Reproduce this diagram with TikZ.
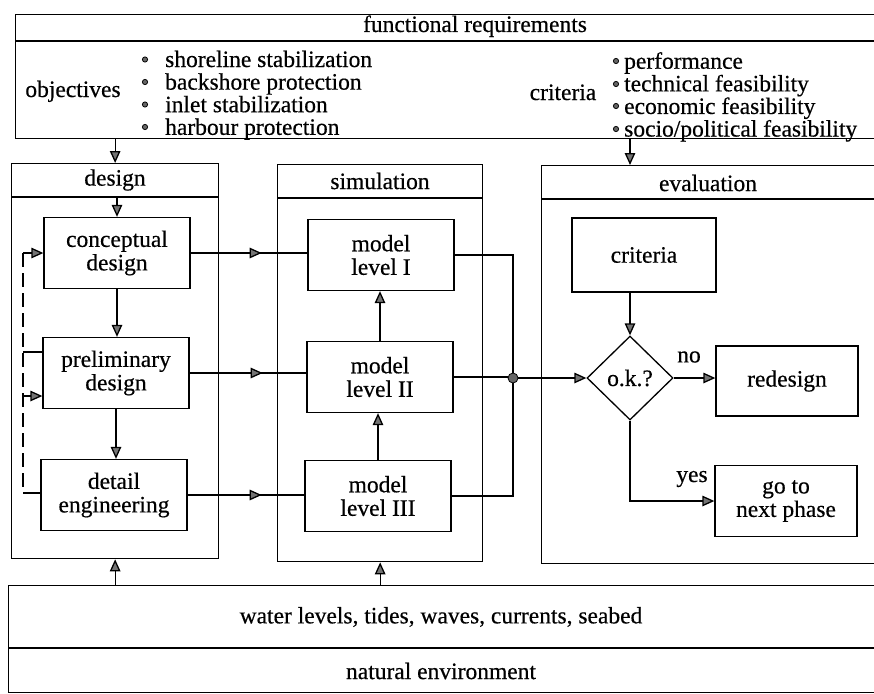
\documentclass[tikz,border=0pt]{standalone}
\usepackage{fontspec}
\setmainfont{Liberation Serif}[FakeBold=0.5]
\usetikzlibrary{arrows.meta,shapes.geometric,decorations.markings}

\tikzset{
  txt/.style={font=\fontsize{23.5}{23.5}\selectfont, inner sep=0pt},
  frame/.style={draw, line width=1.3pt, anchor=north west, inner sep=0pt},
  block/.style={draw, line width=1.3pt, txt, align=center, minimum width=146, minimum height=71},
  wire/.style={line width=1.3pt},
  flowtip/.tip={Triangle[length=12pt,width=10.5pt,fill=black!55]},
  flow/.style={wire, -flowtip},
  midflow/.style={wire, postaction=decorate,
    decoration={markings, mark=at position #1 with {\arrow{flowtip}}}},
  loopline/.style={wire, dash pattern=on 14pt off 6pt},
  listtxt/.style={inner sep=0pt, align=left, anchor=north west, font=\fontsize{23.5}{22.6}\selectfont},
  dotmark/.style={fill=black!60, draw=black, line width=0.8pt},
}

\begin{document}
\begin{tikzpicture}[x=1pt,y=-1pt]
\useasboundingbox (0,0) rectangle (874,693);

% ---------- functional requirements ----------
\node[frame, minimum width=863, minimum height=124] (req) at (15,14) {};
\coordinate (reqdiv) at (15,41);
\draw[wire] (reqdiv) -- (reqdiv -| req.east);
\node[txt, anchor=base] (reqtitle) at (475,32) {functional requirements};

\node[txt, anchor=base] (obj) at (73,97) {objectives};
\node[listtxt] (olist) at (165,50.5)
  {shoreline stabilization\\backshore protection\\inlet stabilization\\harbour protection};
\foreach \y in {59.5,82,104.5,127}
  \filldraw[dotmark] (145,\y) circle (2.6);

\node[txt, anchor=base] (crittitle) at (563,100) {criteria};
\node[listtxt] (clist) at (624,52)
  {performance\\technical feasibility\\economic feasibility\\socio/political feasibility};
\foreach \y in {61,84,106,129}
  \filldraw[dotmark] (616,\y) circle (2.6);

% ---------- containers ----------
\node[frame, minimum width=207, minimum height=395] (design) at (11,163) {};
\coordinate (ddiv) at (11,197);
\draw[wire] (ddiv) -- (ddiv -| design.east);
\node[txt] (dtitle) at (115,180) {design};

\node[frame, minimum width=205, minimum height=397] (sim) at (277,164) {};
\coordinate (sdiv) at (277,198);
\draw[wire] (sdiv) -- (sdiv -| sim.east);
\node[txt] (stitle) at (380,181) {simulation};

\node[frame, minimum width=337, minimum height=398] (eval) at (541,165) {};
\coordinate (ediv) at (541,199);
\draw[wire] (ediv) -- (ediv -| eval.east);
\node[txt] (etitle) at (708,183) {evaluation};

% ---------- natural environment ----------
\node[frame, minimum width=870, minimum height=107] (env) at (8,585) {};
\coordinate (envdiv) at (8,648);
\draw[wire] (envdiv) -- (envdiv -| env.east);
\node[txt] (envdata) at (441,617) {water levels, tides, waves, currents, seabed};
\node[txt] (envtitle) at (441,671) {natural environment};

% ---------- design steps ----------
\node[block] (concept) at (117,253) {conceptual\\design};
\node[block] (prelim) at (116,373) {preliminary\\design};
\node[block] (detail) at (114,495) {detail\\engineering};

% ---------- simulation models ----------
\node[block] (m1) at (381,255) {model\\level I};
\node[block] (m2) at (380,377) {model\\level II};
\node[block] (m3) at (378,496) {model\\level III};

% ---------- evaluation ----------
\node[block, minimum width=144, minimum height=74] (crit) at (644,255) {criteria};
\node[diamond, draw, wire, txt, minimum width=86, minimum height=84] (ok) at (630,378) {o.k.?};
\node[block, minimum width=142, minimum height=70] (redesign) at (787,381) {redesign};
\node[block, minimum width=142] (next) at (786,501) {go to\\next phase};
\node[txt] (nolbl) at (689,357) {no};
\node[txt] (yeslbl) at (692,479) {yes};

% ---------- inputs from above and below ----------
\draw[flow] (design.north |- req.south) -- (design.north);
\draw[flow] (ok.north |- req.south) -- (ok.north |- eval.north);
\draw[flow] (design.south |- env.north) -- (design.south);
\draw[flow] (sim.south |- env.north) -- (sim.south);

% ---------- design sequence ----------
\draw[flow] (concept.north |- ddiv) -- (concept.north);
\draw[flow] (concept.south) -- (concept.south |- prelim.north);
\draw[flow] (prelim.south) -- (prelim.south |- detail.north);

% feedback loops
\coordinate (fbtop) at (23,253);
\coordinate (fbbot) at (23,493);
\coordinate (fbout) at (23,352);
\coordinate (fbin) at (23,396);
\draw[loopline] (fbtop) -- (fbbot);
\draw[flow] (fbtop) -- (fbtop -| concept.west);
\draw[wire] (fbout -| prelim.west) -- (fbout);
\draw[flow] (fbin) -- (fbin -| prelim.west);
\draw[wire] (fbbot -| detail.west) -- (fbbot);

% ---------- design to simulation ----------
\draw[midflow=71pt] (concept.east) -- (concept.east -| m1.west);
\draw[midflow=73pt] (prelim.east) -- (prelim.east -| m2.west);
\draw[midflow=74pt] (detail.east) -- (detail.east -| m3.west);

% model levels
\draw[flow] (m3.north) -- (m3.north |- m2.south);
\draw[flow] (m2.north) -- (m2.north |- m1.south);

% ---------- results to evaluation ----------
\node[circle, dotmark, minimum size=10, inner sep=0pt] (junc) at (513,378) {};
\draw[wire] (m1.east) -| (junc);
\draw[wire] (m3.east) -| (junc);
\draw[wire] (m2.east) -- (m2.east -| junc.west);
\draw[flow] (junc) -- (ok.west);

\draw[flow] (crit.south -| ok.north) -- (ok.north);
\draw[flow] (ok.east) -- (ok.east -| redesign.west);
\draw[flow] (ok.south) |- (next.west);
\end{tikzpicture}
\end{document}
